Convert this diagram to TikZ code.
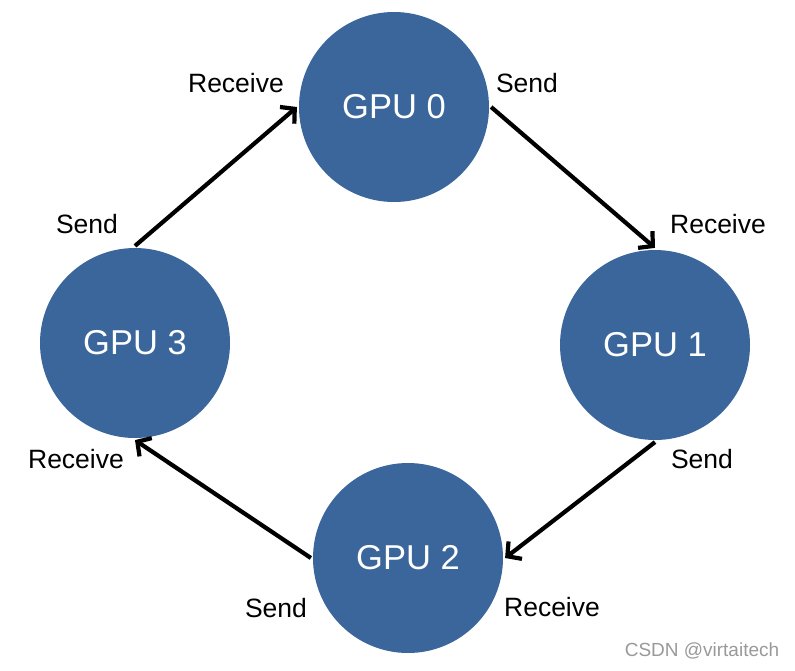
\documentclass[tikz,border=0pt]{standalone}
\usepackage{fontspec}
\setmainfont{Liberation Sans}
\usetikzlibrary{arrows.meta}

\definecolor{gpublue}{RGB}{58,102,156}

\begin{document}
\begin{tikzpicture}[x=1pt,y=-1pt,>={Straight Barb[length=10pt,width=22pt]},line width=4.2pt,
  gpu/.style={circle,fill=gpublue,draw=none,minimum size=190pt,inner sep=0pt,text=white,font=\fontsize{34.5}{40}\selectfont},
  lbl/.style={font=\fontsize{26.5}{30}\selectfont}]
\useasboundingbox (0,0) rectangle (795,670);

\node[gpu](g0) at (394,107) {GPU 0};
\node[gpu](g1) at (655,345) {GPU 1};
\node[gpu](g2) at (408,558) {GPU 2};
\node[gpu](g3) at (135,343) {GPU 3};

\draw[->](g0.east)--(g1.north);
\draw[->](g1.south)--(g2.east);
\draw[->](g2.west)--(g3.south);
\draw[->](g3.north)--(g0.west);

\node[lbl](r0) at (236,83) {Receive};
\node[lbl](s0) at (527,83) {Send};
\node[lbl](r1) at (718,224) {Receive};
\node[lbl](s1) at (702,459) {Send};
\node[lbl](r2) at (552,607) {Receive};
\node[lbl](s2) at (276,608) {Send};
\node[lbl](r3) at (76,459) {Receive};
\node[lbl](s3) at (87,224) {Send};

\node[text=black!40,font=\fontsize{19}{21}\selectfont](mark) at (702,651) {CSDN @virtaitech};
\end{tikzpicture}
\end{document}
